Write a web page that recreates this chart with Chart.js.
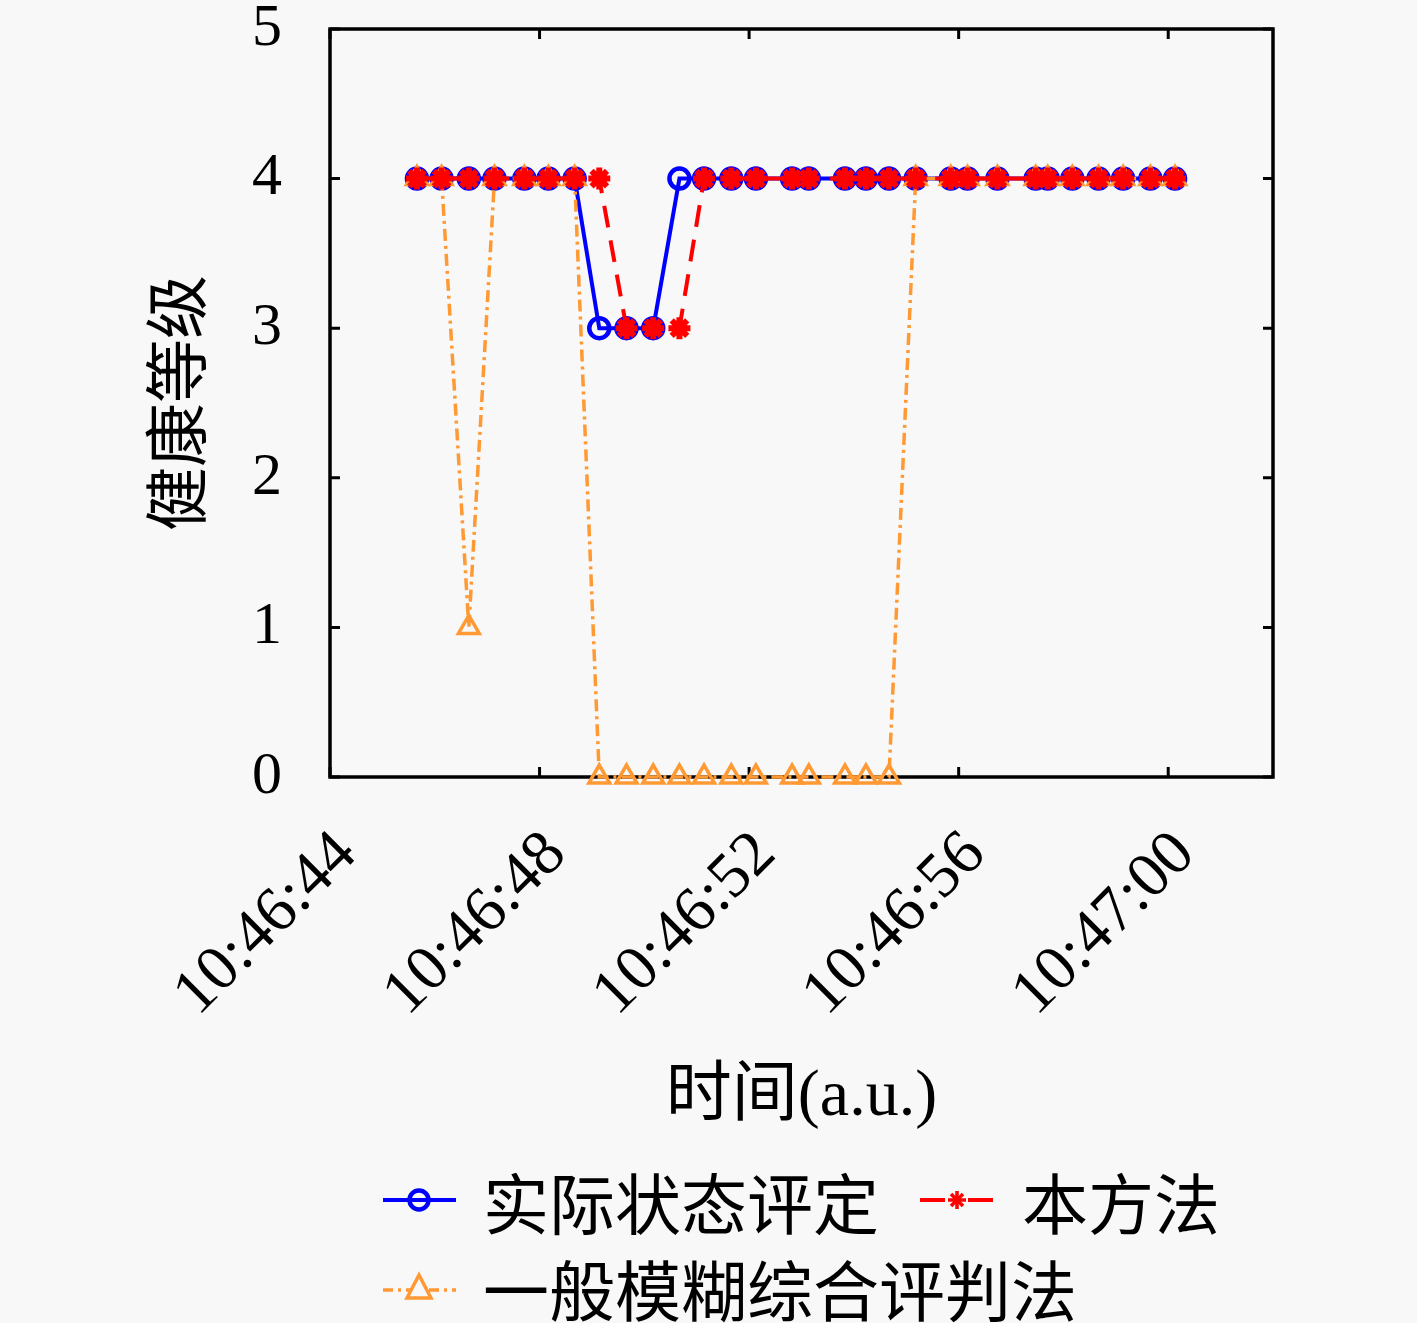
<!DOCTYPE html>
<html>
<head>
<meta charset="utf-8">
<script src="https://cdn.jsdelivr.net/npm/chart.js@4.4.1/dist/chart.umd.min.js"></script>
<style>
  body { margin: 0; background: #f8f8f8; }
  #wrap { position: relative; width: 1417px; height: 1323px; }
  .item { position: absolute; height: 80px; display: flex; align-items: center;
          font-family: "Noto Sans CJK SC"; font-size: 66px; color: #000; white-space: nowrap; line-height: 1; }
  .item svg { margin-right: 27px; flex: none; }
</style>
</head>
<body>
<div id="wrap">
  <canvas id="myChart" width="1417" height="1323"></canvas>
  <div class="item" style="left:383px;top:1160px">
    <svg width="73" height="30"><line x1="0" y1="15" x2="73" y2="15" stroke="#0000ff" stroke-width="4"/><circle cx="36" cy="15" r="9.5" fill="none" stroke="#0000ff" stroke-width="4.5"/></svg>
    <span>实际状态评定</span>
  </div>
  <div class="item" style="left:920px;top:1160px">
    <svg width="75" height="30"><line x1="0" y1="15" x2="75" y2="15" stroke="#ff0000" stroke-width="4" stroke-dasharray="25 23"/>
      <g stroke="#ff0000" stroke-width="3.5"><line x1="28" y1="15" x2="46" y2="15"/><line x1="37" y1="6" x2="37" y2="24"/><line x1="31" y1="9" x2="43" y2="21"/><line x1="43" y1="9" x2="31" y2="21"/></g></svg>
    <span>本方法</span>
  </div>
  <div class="item" style="left:383px;top:1247px">
    <svg width="73" height="34"><line x1="0" y1="20" x2="73" y2="20" stroke="#ff9933" stroke-width="3.5" stroke-dasharray="10 5 3 5"/><polygon points="36,5 48,28 24,28" fill="#f8f8f8" stroke="#ff9933" stroke-width="3.5"/></svg>
    <span>一般模糊综合评判法</span>
  </div>
</div>
<script>
// seconds after 10:46:44
const timeSec = [1.66, 2.13, 2.65, 3.14, 3.71, 4.17, 4.67, 5.14, 5.66, 6.17,
                 6.67, 7.14, 7.66, 8.13, 8.82, 9.14, 9.83, 10.23, 10.67, 11.18,
                 11.85, 12.17, 12.74, 13.47, 13.70, 14.17, 14.67, 15.14, 15.66, 16.13];
const actualLevel = [4, 4, 4, 4, 4, 4, 4, 3, 3, 3,
                     4, 4, 4, 4, 4, 4, 4, 4, 4, 4,
                     4, 4, 4, 4, 4, 4, 4, 4, 4, 4];
const methodLevel = [4, 4, 4, 4, 4, 4, 4, 4, 3, 3,
                     3, 4, 4, 4, 4, 4, 4, 4, 4, 4,
                     4, 4, 4, 4, 4, 4, 4, 4, 4, 4];
const fuzzyLevel = [4, 4, 1, 4, 4, 4, 4, 0, 0, 0,
                    0, 0, 0, 0, 0, 0, 0, 0, 0, 4,
                    4, 4, 4, 4, 4, 4, 4, 4, 4, 4];
const tickSec = [0, 4, 8, 12, 16];
const tickLabels = ['10:46:44', '10:46:48', '10:46:52', '10:46:56', '10:47:00'];

const toPoints = (vals) => vals.map((v, i) => ({ x: timeSec[i], y: v }));

// box around the plot plus inward tick marks on all four sides
const frame = {
    id: 'frame',
    beforeDatasetsDraw(chart) {
        const { ctx, chartArea: a, scales: { x, y } } = chart;
        const len = 10;
        ctx.save();
        ctx.strokeStyle = '#000';
        ctx.lineWidth = 3.5;
        ctx.strokeRect(a.left, a.top, a.right - a.left, a.bottom - a.top);
        ctx.lineWidth = 3;
        ctx.beginPath();
        x.ticks.forEach(t => {
            const px = x.getPixelForValue(t.value);
            ctx.moveTo(px, a.bottom); ctx.lineTo(px, a.bottom - len);
            ctx.moveTo(px, a.top); ctx.lineTo(px, a.top + len);
        });
        y.ticks.forEach(t => {
            const py = y.getPixelForValue(t.value);
            ctx.moveTo(a.left, py); ctx.lineTo(a.left + len, py);
            ctx.moveTo(a.right, py); ctx.lineTo(a.right - len, py);
        });
        ctx.stroke();
        ctx.restore();
    }
};

const ctx = document.getElementById('myChart').getContext('2d');

const myChart = new Chart(ctx, {
    type: 'line',
    data: {
        datasets: [{
            label: '实际状态评定',
            data: toPoints(actualLevel),
            borderColor: '#0000ff',
            borderWidth: 4,
            pointStyle: 'circle',
            pointRadius: 10,
            pointBorderWidth: 4.5,
            pointBackgroundColor: 'rgba(0,0,0,0)',
            pointBorderColor: '#0000ff',
            order: 2
        }, {
            label: '本方法',
            data: toPoints(methodLevel),
            borderColor: '#ff0000',
            borderWidth: 4,
            borderDash: [22, 13],
            pointStyle: 'star',
            pointRadius: 11,
            pointBorderWidth: 6,
            pointBorderColor: '#ff0000',
            pointBackgroundColor: '#ff0000',
            order: 0
        }, {
            label: '一般模糊综合评判法',
            data: toPoints(fuzzyLevel),
            borderColor: '#ff9933',
            borderWidth: 3.5,
            borderDash: [12, 5, 3, 5],
            pointStyle: 'triangle',
            pointRadius: 12,
            pointBorderWidth: 3.5,
            pointBorderColor: '#ff9933',
            pointBackgroundColor: 'rgba(0,0,0,0)',
            order: 1
        }]
    },
    options: {
        responsive: false,
        animation: false,
        devicePixelRatio: 1,
        clip: false,
        layout: { padding: { left: 0, right: 144, top: 29, bottom: 186 } },
        plugins: {
            legend: { display: false },
            tooltip: { enabled: false }
        },
        elements: { line: { tension: 0 } },
        scales: {
            x: {
                type: 'linear',
                min: 0,
                max: 18,
                afterBuildTicks: (s) => { s.ticks = tickSec.map(v => ({ value: v })); },
                afterFit: (s) => { s.height = 360; },
                grid: { display: false, drawTicks: false },
                border: { display: false },
                ticks: {
                    autoSkip: false,
                    minRotation: 45,
                    maxRotation: 45,
                    padding: 40,
                    labelOffset: 17,
                    color: '#000',
                    font: { family: 'Liberation Serif', size: 64 },
                    callback: (v) => tickLabels[tickSec.indexOf(v)]
                },
                title: {
                    display: true,
                    text: '时间(a.u.)',
                    color: '#000',
                    padding: { top: 0, bottom: 0 },
                    font: { family: '"Liberation Serif", "Noto Sans CJK SC"', size: 66 }
                }
            },
            y: {
                min: 0,
                max: 5,
                afterFit: (s) => { s.width = 330; s.paddingTop = 0; s.paddingBottom = 0; },
                grid: { display: false, drawTicks: false },
                border: { display: false },
                ticks: {
                    stepSize: 1,
                    padding: 48,
                    color: '#000',
                    font: { family: 'Liberation Serif', size: 60, lineHeight: 0.9 }
                },
                title: {
                    display: true,
                    text: '健康等级',
                    color: '#000',
                    padding: { top: 137, bottom: 0 },
                    font: { family: 'Noto Sans CJK SC', size: 64 }
                }
            }
        }
    },
    plugins: [frame]
});
</script>
</body>
</html>
